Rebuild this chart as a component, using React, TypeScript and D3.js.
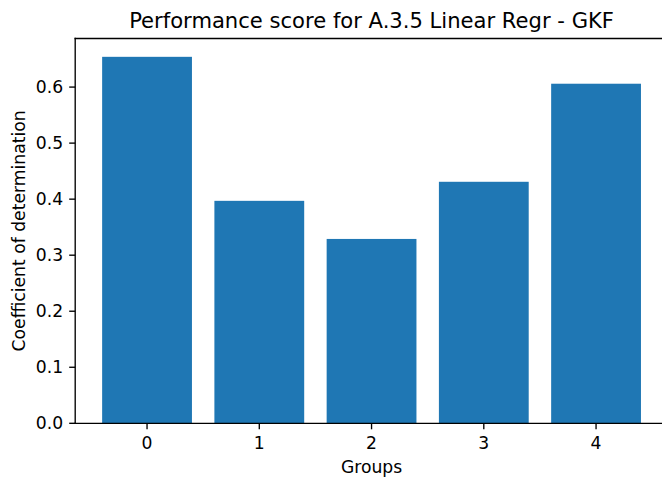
import React from "react";
import * as d3 from "d3";

const groups = ["0", "1", "2", "3", "4"];
const scores = [0.654, 0.397, 0.329, 0.431, 0.606];
const yTicks = [0.0, 0.1, 0.2, 0.3, 0.4, 0.5, 0.6];

const W = 662;
const H = 477;
const left = 75.2;
const right = 667.9;
const top = 38.5;
const bottom = 423.3;

export default function App() {
  const x = d3.scaleLinear().domain([-0.64, 4.64]).range([left, right]);
  const yMax = d3.max(scores)! * 1.05;
  const y = d3.scaleLinear().domain([0, yMax]).range([bottom, top]);
  const font = "DejaVu Sans, sans-serif";
  const sw = 1.35;
  const tl = 6;
  const fs = 17.2;
  return (
    <svg
      width={W}
      height={H}
      style={{ position: "absolute", left: 0, top: 0, background: "#fff" }}
      fontFamily={font}
    >
      <rect x={0} y={0} width={W} height={H} fill="#fff" />
      {scores.map((v, i) => (
        <rect
          key={i}
          x={x(i - 0.4)}
          y={y(v)}
          width={x(i + 0.4) - x(i - 0.4)}
          height={y(0) - y(v)}
          fill="#1f77b4"
        />
      ))}
      <line x1={left} x2={left} y1={top} y2={bottom} stroke="#000" strokeWidth={sw} strokeLinecap="square" />
      <line x1={left} x2={right} y1={bottom} y2={bottom} stroke="#000" strokeWidth={sw} strokeLinecap="square" />
      <line x1={left} x2={right} y1={top} y2={top} stroke="#000" strokeWidth={sw} strokeLinecap="square" />
      <line x1={right} x2={right} y1={top} y2={bottom} stroke="#000" strokeWidth={sw} />
      {yTicks.map((t) => (
        <g key={t}>
          <line x1={left - tl} x2={left} y1={y(t)} y2={y(t)} stroke="#000" strokeWidth={sw} />
          <text x={left - tl - 6} y={y(t)} dy="0.36em" textAnchor="end" fontSize={fs} fill="#000">
            {d3.format(".1f")(t)}
          </text>
        </g>
      ))}
      {groups.map((g, i) => (
        <g key={g}>
          <line x1={x(i)} x2={x(i)} y1={bottom} y2={bottom + tl} stroke="#000" strokeWidth={sw} />
          <text x={x(i)} y={448.5} textAnchor="middle" fontSize={fs} fill="#000">
            {g}
          </text>
        </g>
      ))}
      <text x={(left + right) / 2} y={472.5} textAnchor="middle" fontSize={fs} fill="#000">
        Groups
      </text>
      <text
        transform={`translate(24.8, ${(top + bottom) / 2}) rotate(-90)`}
        textAnchor="middle"
        fontSize={fs}
        fill="#000"
      >
        Coefficient of determination
      </text>
      <text x={(left + right) / 2} y={27.5} textAnchor="middle" fontSize={21.1} fill="#000">
        Performance score for A.3.5 Linear Regr - GKF
      </text>
    </svg>
  );
}
